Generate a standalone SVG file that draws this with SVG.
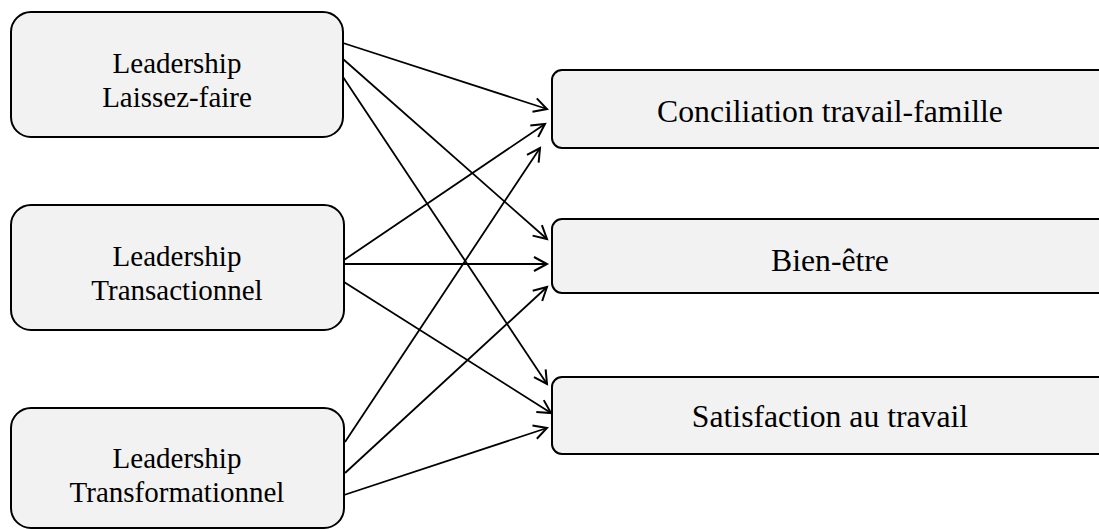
<svg xmlns="http://www.w3.org/2000/svg" width="1099" height="529" viewBox="0 0 1099 529">
  <style>
    .box { fill: #f2f2f2; stroke: #000; stroke-width: 2; }
    text { font-family: 'Liberation Serif', 'Times New Roman', Tinos, 'DejaVu Serif', serif; fill: #000; text-anchor: middle; }
    .l { font-size: 29px; }
    .r { font-size: 31.7px; }
    .edge { fill: none; stroke: #000; stroke-width: 1.8; marker-end: url(#arr); }
  </style>
  <defs>
    <marker id="arr" markerUnits="userSpaceOnUse" markerWidth="18" markerHeight="18" refX="14" refY="8" orient="auto" overflow="visible">
      <path d="M1,1 L14,8 L1,15" fill="none" stroke="#000" stroke-width="2"/>
    </marker>
  </defs>
  <rect width="1099" height="529" fill="#fff"/>

  <g id="n-laissez">
    <rect class="box" x="11" y="12" width="332" height="125" rx="20"/>
    <text class="l" x="177" y="73" font-family="Liberation Serif, serif">Leadership</text>
    <text class="l" x="177" y="107" font-family="Liberation Serif, serif">Laissez-faire</text>
  </g>
  <g id="n-transactionnel">
    <rect class="box" x="11" y="205" width="333" height="125" rx="20"/>
    <text class="l" x="177" y="266">Leadership</text>
    <text class="l" x="177" y="300">Transactionnel</text>
  </g>
  <g id="n-transformationnel">
    <rect class="box" x="11" y="408" width="333" height="120" rx="20"/>
    <text class="l" x="177" y="468">Leadership</text>
    <text class="l" x="177" y="502">Transformationnel</text>
  </g>

  <g id="n-conciliation">
    <rect class="box" x="552" y="70" width="580" height="78" rx="10"/>
    <text class="r" x="830" y="122">Conciliation travail-famille</text>
  </g>
  <g id="n-bienetre">
    <rect class="box" x="552" y="219" width="580" height="74" rx="10"/>
    <text class="r" x="830" y="271">Bien-être</text>
  </g>
  <g id="n-satisfaction">
    <rect class="box" x="552" y="377" width="580" height="77" rx="10"/>
    <text class="r" x="830" y="427">Satisfaction au travail</text>
  </g>

  <g id="connectors">
    <line class="edge" x1="343" y1="43" x2="547" y2="109"/>
    <line class="edge" x1="343" y1="59" x2="547" y2="239"/>
    <line class="edge" x1="343" y1="77" x2="547" y2="384"/>
    <line class="edge" x1="344" y1="260" x2="545" y2="124"/>
    <line class="edge" x1="344" y1="264" x2="547" y2="264"/>
    <line class="edge" x1="344" y1="282" x2="551" y2="413"/>
    <line class="edge" x1="345" y1="442" x2="540" y2="148"/>
    <line class="edge" x1="345" y1="473" x2="547" y2="287"/>
    <line class="edge" x1="344" y1="495" x2="547" y2="428"/>
  </g>
</svg>
